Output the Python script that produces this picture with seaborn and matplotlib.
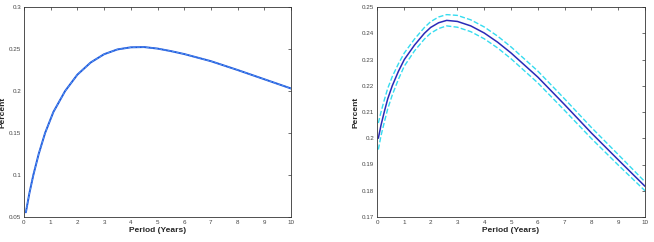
import numpy as np
import pandas as pd
import matplotlib
matplotlib.use("Agg")
import matplotlib.pyplot as plt
import seaborn as sns

# Left panel data
left_x = [0.07, 0.2, 0.35, 0.55, 0.79, 1.1, 1.54, 2.0, 2.5, 3.0, 3.5, 4.0, 4.5, 5.0, 5.5, 6.0, 7.0, 8.0, 9.0, 10.0]
left_y = [0.0556, 0.078, 0.100, 0.125, 0.150, 0.175, 0.200, 0.2195, 0.2340, 0.2438, 0.2495, 0.2520, 0.2523, 0.2505, 0.2475, 0.2440, 0.2355, 0.2250, 0.2140, 0.2030]

# Right panel data
right_x = [0.05, 0.15, 0.27, 0.4, 0.57, 0.8, 1.02, 1.4, 1.77, 2.0, 2.3, 2.6, 3.0, 3.5, 4.0, 4.5, 5.0, 6.0, 7.0, 8.0, 9.0, 10.0]
right_mid = [0.2000, 0.2050, 0.2100, 0.2150, 0.2200, 0.2255, 0.2300, 0.2355, 0.2400, 0.2422, 0.2440, 0.2449, 0.2445, 0.2428, 0.2401, 0.2366, 0.2325, 0.2233, 0.2128, 0.2020, 0.1918, 0.1817]
right_up = [0.2058, 0.2100, 0.2145, 0.2190, 0.2235, 0.2284, 0.2325, 0.2378, 0.2422, 0.2444, 0.2462, 0.2471, 0.2468, 0.2451, 0.2424, 0.2389, 0.2348, 0.2256, 0.2150, 0.2041, 0.1938, 0.1834]
right_lo = [0.1957, 0.2010, 0.2060, 0.2112, 0.2165, 0.2225, 0.2275, 0.2333, 0.2378, 0.2400, 0.2418, 0.2428, 0.2423, 0.2406, 0.2379, 0.2344, 0.2303, 0.2211, 0.2106, 0.1999, 0.1898, 0.1800]

left_yticks = [0.05, 0.1, 0.15, 0.2, 0.25, 0.3]
left_yticklabels = ["0.05", "0.1", "0.15", "0.2", "0.25", "0.3"]
right_yticks = [0.17, 0.18, 0.19, 0.2, 0.21, 0.22, 0.23, 0.24, 0.25]
right_yticklabels = ["0.17", "0.18", "0.19", "0.2", "0.21", "0.22", "0.23", "0.24", "0.25"]
xticks = list(range(11))

sns.set_style("white")
plt.rcParams['font.family'] = ['Liberation Sans', 'DejaVu Sans']

fig = plt.figure(figsize=(6.54, 2.42), dpi=100)
axL = fig.add_axes([24/654, 1-217/242, (291-24)/654, (217-7)/242])
axR = fig.add_axes([377/654, 1-217/242, (645-377)/654, (217-7)/242])

dfL = pd.DataFrame({"x": left_x, "y": left_y})
sns.lineplot(data=dfL, x="x", y="y", ax=axL, color="#1f55dd", lw=1.4)
sns.lineplot(data=dfL, x="x", y="y", ax=axL, color="#5aa0f0", lw=0.6, linestyle="--")

dfR = pd.DataFrame({"x": right_x, "mid": right_mid, "up": right_up, "lo": right_lo})
sns.lineplot(data=dfR, x="x", y="up", ax=axR, color="#35dcf0", lw=1.0, linestyle="--")
sns.lineplot(data=dfR, x="x", y="lo", ax=axR, color="#35dcf0", lw=1.0, linestyle="--")
sns.lineplot(data=dfR, x="x", y="mid", ax=axR, color="#2a2ab8", lw=1.1)

for ax, yt, ytl, ylim in [(axL, left_yticks, left_yticklabels, (0.05, 0.3)),
                          (axR, right_yticks, right_yticklabels, (0.17, 0.25))]:
    ax.set_xlim(0, 10)
    ax.set_ylim(*ylim)
    ax.set_xticks(xticks)
    ax.set_xticklabels([str(t) for t in xticks])
    ax.set_yticks(yt)
    ax.set_yticklabels(ytl)
    ax.tick_params(direction="in", length=2.5, width=0.5, labelsize=4.5,
                   top=True, right=True, colors="#333333", pad=2)
    ax.tick_params(labelcolor="#444444")
    for s in ax.spines.values():
        s.set_linewidth(0.6)
        s.set_color("#333333")
    ax.set_xlabel("Period (Years)", fontsize=6, fontweight="bold", labelpad=1.5)
    ax.set_ylabel("Percent", fontsize=6, fontweight="bold", labelpad=2)

fig.savefig("out.png", dpi=100)
